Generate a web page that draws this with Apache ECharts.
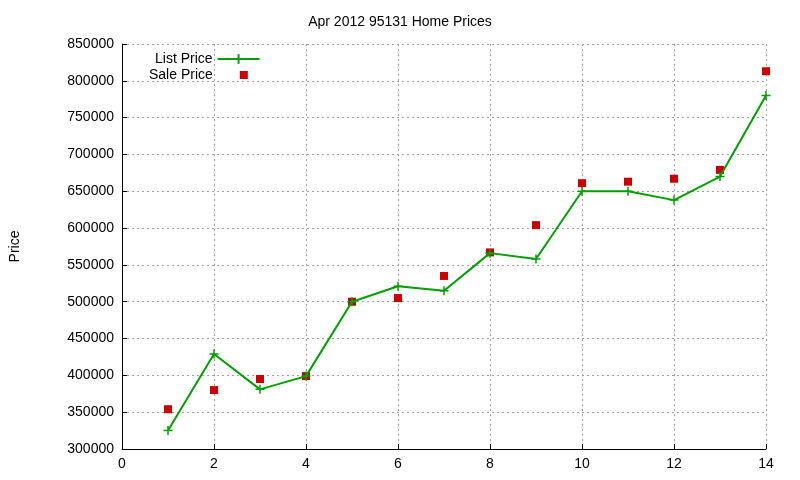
<!DOCTYPE html>
<html>
<head>
<meta charset="utf-8">
<script src="https://cdn.jsdelivr.net/npm/echarts@6/dist/echarts.min.js"></script>
<style>html,body{margin:0;padding:0;background:#fff}#chart{width:800px;height:480px}</style>
</head>
<body>
<div id="chart"></div>
<script>
var months = [1, 2, 3, 4, 5, 6, 7, 8, 9, 10, 11, 12, 13, 14];
var listPrice = [325000, 429000, 381000, 399000, 500000, 521000, 515000, 566000, 558000, 650000, 650000, 638000, 670000, 780000];
var salePrice = [354000, 380000, 395000, 399000, 500000, 505000, 535000, 567000, 604000, 661000, 663000, 667000, 679000, 813000];

var plus = 'path://M0,5L10,5M5,0L5,10';
var gridLine = {show: true, lineStyle: {color: '#a0a0a0', type: [2, 3], width: 1}};
var axisLine = {show: true, lineStyle: {color: '#000'}};
var labelStyle = {color: '#000', fontSize: 14, fontFamily: 'Liberation Sans, Arial'};

var chart = echarts.init(document.getElementById('chart'));
chart.setOption({
    animation: false,
    title: {
        text: 'Apr 2012 95131 Home Prices',
        left: 'center', top: 10,
        textStyle: {fontSize: 14, fontWeight: 'normal', color: '#000', fontFamily: 'Liberation Sans, Arial'}
    },
    legend: [{
        left: 150, top: 47, align: 'right',
        itemWidth: 42, itemHeight: 12,
        textStyle: labelStyle,
        data: ['List Price']
    }, {
        left: 144, top: 63, align: 'right',
        itemWidth: 8, itemHeight: 8,
        textStyle: {color: '#000', fontSize: 14, fontFamily: 'Liberation Sans, Arial', padding: [0, 22, 0, 0]},
        data: [{name: 'Sale Price', icon: 'rect'}]
    }],
    grid: {left: 120, right: 34, top: 44, bottom: 31},
    xAxis: {
        type: 'value', min: 0, max: 14, interval: 2,
        axisLine: axisLine, axisTick: {inside: true, lineStyle: {color: '#000'}},
        splitLine: gridLine, axisLabel: labelStyle
    },
    yAxis: {
        type: 'value', min: 300000, max: 850000, interval: 50000,
        name: 'Price', nameLocation: 'middle', nameGap: 100, nameRotate: 90,
        nameTextStyle: labelStyle,
        axisLine: axisLine, axisTick: {inside: true, lineStyle: {color: '#000'}},
        splitLine: gridLine,
        axisLabel: {color: '#000', fontSize: 14, fontFamily: 'Liberation Sans, Arial', formatter: function (v) { return String(v); }}
    },
    series: [{
        name: 'List Price', type: 'line',
        data: months.map(function (m, i) { return [m, listPrice[i]]; }),
        symbol: plus, symbolSize: 9,
        lineStyle: {color: '#00a000', width: 2},
        itemStyle: {color: '#00a000', borderColor: '#00a000', borderWidth: 1.5}
    }, {
        name: 'Sale Price', type: 'scatter',
        data: months.map(function (m, i) { return [m, salePrice[i]]; }),
        symbol: 'rect', symbolSize: 8,
        itemStyle: {color: '#cc0000', opacity: 1}
    }]
});
</script>
</body>
</html>
